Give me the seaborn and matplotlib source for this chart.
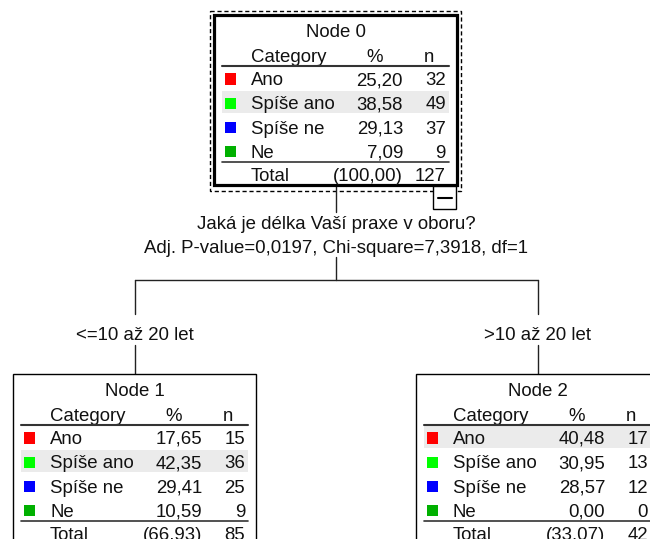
import numpy as np
import pandas as pd
import matplotlib.pyplot as plt
import matplotlib.patches as mpatches
import seaborn as sns

# category data for the tree
categories = ['Ano', 'Spíše ano', 'Spíše ne', 'Ne']
cat_colors = ['#ff0000', '#00ff00', '#0000ff', '#00b000']

node_names = ['Node 0', 'Node 1', 'Node 2']
node0_pct = [25.20, 38.58, 29.13, 7.09]
node0_n = [32, 49, 37, 9]
node1_pct = [17.65, 42.35, 29.41, 10.59]
node1_n = [15, 36, 25, 9]
node2_pct = [40.48, 30.95, 28.57, 0.00]
node2_n = [17, 13, 12, 0]
total_pct = [100.00, 66.93, 33.07]
total_n = [127, 85, 42]

split_question = 'Jaká je délka Vaší praxe v oboru?'
split_stats = 'Adj. P-value=0,0197, Chi-square=7,3918, df=1'
branch_labels = ['<=10 až 20 let', '>10 až 20 let']

sns.set_theme(style='white')
plt.rcParams['font.family'] = ['Liberation Sans', 'DejaVu Sans']

FS = 13.4
TXT = '#111111'
BOX_W, BOX_H = 243, 170
ROW = 24.3


def fmt(v):
    return f'{v:.2f}'.replace('.', ',')


def draw_node(ax, x0, y0, name, pct, n, tpct, tn, lw):
    ax.add_patch(mpatches.Rectangle((x0, y0), BOX_W, BOX_H, facecolor='white',
                                    edgecolor='black', lw=lw, zorder=1))
    ax.text(x0 + BOX_W / 2, y0 + 22, name, ha='center', va='baseline', fontsize=FS, color=TXT)
    hy = y0 + 47
    ax.text(x0 + 37, hy, 'Category', ha='left', va='baseline', fontsize=FS, color=TXT)
    ax.text(x0 + 161, hy, '%', ha='center', va='baseline', fontsize=FS, color=TXT)
    ax.text(x0 + 215, hy, 'n', ha='center', va='baseline', fontsize=FS, color=TXT)
    ax.plot([x0 + 8, x0 + 235], [y0 + 51, y0 + 51], color='#333333', lw=1.5, zorder=3)

    base = [y0 + 70 + ROW * i for i in range(len(categories))]
    best = int(np.argmax(pct))
    ax.add_patch(mpatches.Rectangle((x0 + 8, base[best] - 18), 227, 22, facecolor='#ebebeb',
                                    edgecolor='none', zorder=2))
    df = pd.DataFrame({'x': [x0 + 16.5] * len(categories),
                       'y': [b - 6 for b in base], 'cat': categories})
    sns.scatterplot(data=df, x='x', y='y', hue='cat', palette=dict(zip(categories, cat_colors)),
                    marker='s', s=64, linewidth=0, legend=False, ax=ax, zorder=4)
    for i, c in enumerate(categories):
        ax.text(x0 + 37, base[i], c, ha='left', va='baseline', fontsize=FS, color=TXT, zorder=5)
        ax.text(x0 + 189, base[i], fmt(pct[i]), ha='right', va='baseline', fontsize=FS, color=TXT, zorder=5)
        ax.text(x0 + 232, base[i], str(n[i]), ha='right', va='baseline', fontsize=FS, color=TXT, zorder=5)
    ax.plot([x0 + 8, x0 + 235], [y0 + 147, y0 + 147], color='#333333', lw=1.2, zorder=3)
    ax.text(x0 + 37, y0 + 166, 'Total', ha='left', va='baseline', fontsize=FS, color=TXT)
    ax.text(x0 + 189, y0 + 166, f'({fmt(tpct)})', ha='right', va='baseline', fontsize=FS, color=TXT)
    ax.text(x0 + 232, y0 + 166, str(tn), ha='right', va='baseline', fontsize=FS, color=TXT)


fig = plt.figure(figsize=(6.5, 5.39), dpi=100)
ax = fig.add_axes([0, 0, 1, 1])
ax.set_xlim(0, 650)
ax.set_ylim(539, 0)
ax.axis('off')

line_kw = dict(color='#222222', lw=1.0, zorder=0)

# root node with selection frame
draw_node(ax, 214, 15, node_names[0], node0_pct, node0_n, total_pct[0], total_n[0], lw=2.3)
ax.add_patch(mpatches.Rectangle((210, 11), 251, 180, fill=False, edgecolor='black',
                                lw=1.0, linestyle=(0, (3, 2)), zorder=0))
ax.add_patch(mpatches.Rectangle((433, 186), 23, 23, facecolor='white', edgecolor='black', lw=1.0, zorder=2))
ax.plot([438, 452], [198, 198], color='black', lw=1.5, zorder=3)

# split description
ax.plot([336, 336], [185, 212], **line_kw)
ax.text(336, 229, split_question, ha='center', va='baseline', fontsize=FS, color=TXT)
ax.text(336, 253, split_stats, ha='center', va='baseline', fontsize=FS, color=TXT)
ax.plot([336, 336], [257, 280], **line_kw)

child_x = [13, 416]
ax.plot([child_x[0] + BOX_W / 2, child_x[1] + BOX_W / 2], [280, 280], **line_kw)
for cx, lab in zip(child_x, branch_labels):
    mx = cx + BOX_W / 2
    ax.plot([mx, mx], [280, 314], **line_kw)
    ax.text(mx, 340, lab, ha='center', va='baseline', fontsize=FS, color=TXT)
    ax.plot([mx, mx], [345, 374], **line_kw)

draw_node(ax, child_x[0], 374, node_names[1], node1_pct, node1_n, total_pct[1], total_n[1], lw=1.0)
draw_node(ax, child_x[1], 374, node_names[2], node2_pct, node2_n, total_pct[2], total_n[2], lw=1.0)

fig.savefig('out.png', dpi=100)
